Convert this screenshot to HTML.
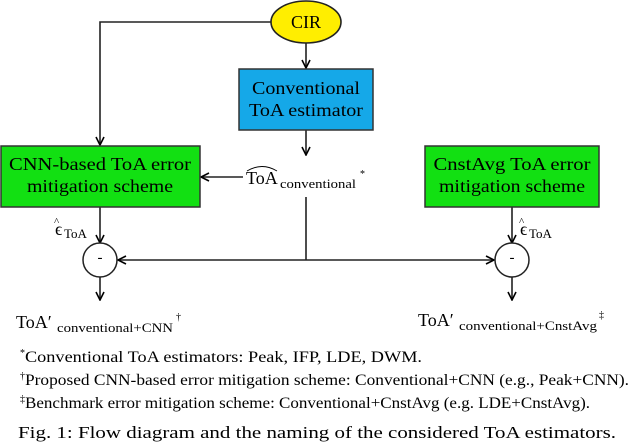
<!DOCTYPE html>
<html><head><style>
html,body{margin:0;padding:0;background:#fff;}
svg{display:block;font-family:"Liberation Serif",serif;}
</style></head><body>
<svg width="640" height="446" viewBox="0 0 640 446" xmlns="http://www.w3.org/2000/svg">
<defs><marker id="a" markerWidth="10" markerHeight="10" refX="9" refY="5" orient="auto" markerUnits="userSpaceOnUse"><path d="M1,1 L9,5 L1,9" fill="none" stroke="#000" stroke-width="1.6"/></marker></defs>
<g stroke="#222" stroke-width="1.6" fill="none">
<polyline points="271,22 100,22 100,145" marker-end="url(#a)"/>
<line x1="306" y1="43" x2="306" y2="68" marker-end="url(#a)"/>
<line x1="306" y1="130" x2="306" y2="155" marker-end="url(#a)"/>
<line x1="243" y1="177" x2="201" y2="177" marker-end="url(#a)"/>
<line x1="306" y1="197" x2="306" y2="260"/>
<line x1="306" y1="260" x2="118" y2="260" marker-end="url(#a)"/>
<line x1="306" y1="260" x2="494" y2="260" marker-end="url(#a)"/>
<line x1="100" y1="207" x2="100" y2="243" marker-end="url(#a)"/>
<line x1="512" y1="207" x2="512" y2="243" marker-end="url(#a)"/>
<line x1="100" y1="277" x2="100" y2="300" marker-end="url(#a)"/>
<line x1="512" y1="277" x2="512" y2="300" marker-end="url(#a)"/>
</g>
<ellipse cx="306" cy="22" rx="35" ry="21" fill="#ffee00" stroke="#222" stroke-width="1.6"/>
<rect x="239" y="69" width="134" height="61" fill="#15a8e8" stroke="#333" stroke-width="1.5"/>
<rect x="1" y="146" width="199" height="61" fill="#12e012" stroke="#333" stroke-width="1.5"/>
<rect x="425" y="146" width="174" height="61" fill="#12e012" stroke="#333" stroke-width="1.5"/>
<ellipse cx="100" cy="260" rx="17" ry="17" fill="#fff" stroke="#222" stroke-width="1.5"/>
<ellipse cx="512" cy="260" rx="17" ry="17" fill="#fff" stroke="#222" stroke-width="1.5"/>
<g font-size="18" text-anchor="middle" fill="#000">
<text x="306" y="28">CIR</text>
<text x="306" y="94" textLength="108" lengthAdjust="spacingAndGlyphs">Conventional</text>
<text x="306" y="116" textLength="114" lengthAdjust="spacingAndGlyphs">ToA estimator</text>
<text x="100" y="170" textLength="182" lengthAdjust="spacingAndGlyphs">CNN-based ToA error</text>
<text x="100" y="192" textLength="146" lengthAdjust="spacingAndGlyphs">mitigation scheme</text>
<text x="512" y="170" textLength="157" lengthAdjust="spacingAndGlyphs">CnstAvg ToA error</text>
<text x="512" y="192" textLength="146" lengthAdjust="spacingAndGlyphs">mitigation scheme</text>
<text x="100" y="262" font-size="15">-</text>
<text x="512" y="262" font-size="15">-</text>
</g>
<g fill="#000">
<text x="246" y="184" font-size="18">ToA</text>
<path d="M247,171 Q262,162 277,171" fill="none" stroke="#000" stroke-width="0.9"/>
<text x="280" y="188" font-size="13" textLength="76" lengthAdjust="spacingAndGlyphs">conventional</text>
<text x="360" y="177" font-size="10">*</text>
<text x="55" y="235" font-size="18">ϵ</text>
<text x="54" y="225" font-size="11">^</text>
<text x="64" y="238" font-size="13">ToA</text>
<text x="520" y="235" font-size="18">ϵ</text>
<text x="519" y="225" font-size="11">^</text>
<text x="529" y="238" font-size="13">ToA</text>
<text x="16" y="328" font-size="18">ToA′</text>
<text x="57" y="332" font-size="13" textLength="116" lengthAdjust="spacingAndGlyphs">conventional+CNN</text>
<text x="176" y="320" font-size="10">†</text>
<text x="418" y="326" font-size="18">ToA′</text>
<text x="459" y="330" font-size="13" textLength="138" lengthAdjust="spacingAndGlyphs">conventional+CnstAvg</text>
<text x="599" y="318" font-size="10">‡</text>
</g>
<g fill="#000" font-size="15.5">
<text x="20" y="362"><tspan font-size="10" dy="-6">*</tspan><tspan dy="6" textLength="397" lengthAdjust="spacingAndGlyphs">Conventional ToA estimators: Peak, IFP, LDE, DWM.</tspan></text>
<text x="20" y="385"><tspan font-size="10" dy="-6">†</tspan><tspan dy="6" textLength="604" lengthAdjust="spacingAndGlyphs">Proposed CNN-based error mitigation scheme: Conventional+CNN (e.g., Peak+CNN).</tspan></text>
<text x="20" y="408"><tspan font-size="10" dy="-6">‡</tspan><tspan dy="6" textLength="565" lengthAdjust="spacingAndGlyphs">Benchmark error mitigation scheme: Conventional+CnstAvg (e.g. LDE+CnstAvg).</tspan></text>
<text x="18" y="438" font-size="17" textLength="598" lengthAdjust="spacingAndGlyphs">Fig. 1: Flow diagram and the naming of the considered ToA estimators.</text>
</g>
</svg>
</body></html>
